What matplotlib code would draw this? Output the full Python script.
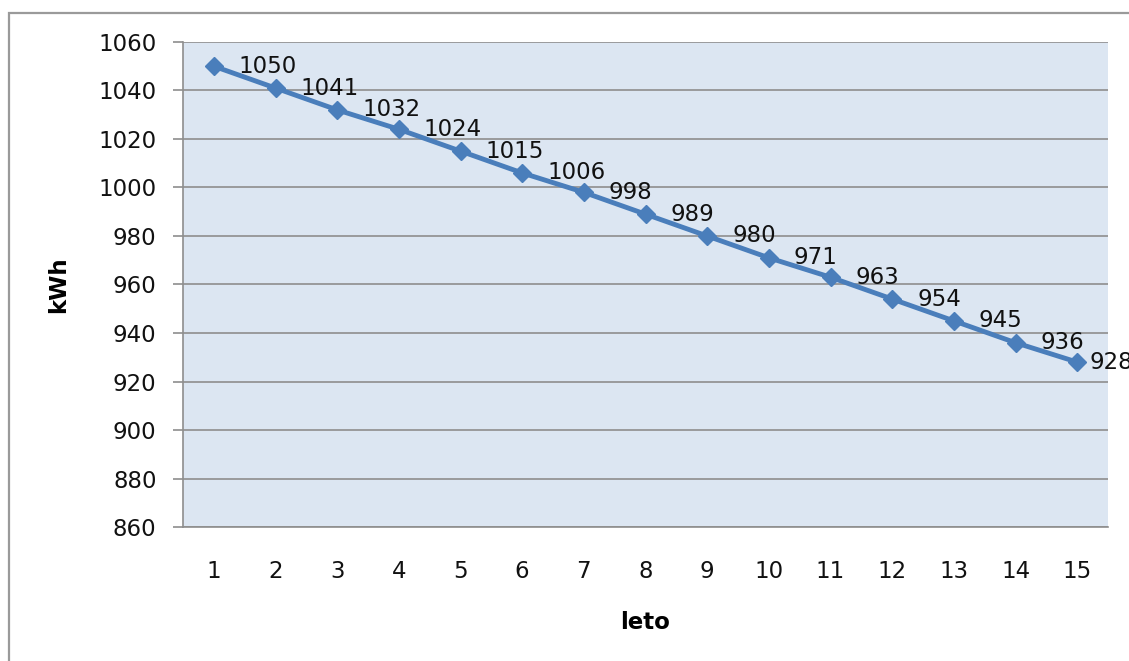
import matplotlib.pyplot as plt
from matplotlib.patches import Rectangle

# yearly energy output
leto = list(range(1, 16))
kwh = [1050, 1041, 1032, 1024, 1015, 1006, 998, 989, 980, 971, 963, 954, 945, 936, 928]

line_col = "#4A7EBB"
grid_col = "#8E8E8E"
fs = 16.5

fig = plt.figure(figsize=(11.29, 6.61), dpi=100)
ax = fig.add_axes([0.1621, 0.2027, 0.8193, 0.7338])
ax.set_facecolor("#DCE6F2")

# chart frame (only left and top edges are inside the picture)
fig.patches.append(Rectangle((9 / 1129, -0.5), 2.0, 0.5 + (1 - 13 / 661),
                             transform=fig.transFigure, fill=False,
                             edgecolor="#9A9A9A", linewidth=1.6))

ax.plot(leto, kwh, color=line_col, linewidth=3.5, marker="D",
        markersize=9.5, markerfacecolor=line_col, markeredgecolor=line_col,
        zorder=3)

for i, (x, y) in enumerate(zip(leto, kwh)):
    dx = 9 if i == len(leto) - 1 else 18
    ax.annotate(str(y), (x, y), xytext=(dx, 0), textcoords="offset points",
                ha="left", va="center", fontsize=fs, color="#111111",
                annotation_clip=False, zorder=4)

ax.set_xlim(0.5, 15.5)
ax.set_ylim(860, 1060)
ax.set_yticks(range(860, 1061, 20))
ax.set_xticks(leto)

ax.grid(axis="y", color=grid_col, linewidth=1.2)
ax.set_axisbelow(True)
for s in ["top", "right"]:
    ax.spines[s].set_visible(False)
for s in ["left", "bottom"]:
    ax.spines[s].set_color(grid_col)
    ax.spines[s].set_linewidth(1.2)

ax.tick_params(axis="y", length=7, width=1.2, color=grid_col, pad=12,
               labelsize=fs, labelcolor="#111111")
ax.tick_params(axis="x", length=0, pad=24, labelsize=fs, labelcolor="#111111")

ax.set_ylabel("kWh", fontsize=fs, fontweight="bold", labelpad=20)
ax.set_xlabel("leto", fontsize=fs, fontweight="bold", labelpad=20)

fig.savefig("out.png", dpi=100)
